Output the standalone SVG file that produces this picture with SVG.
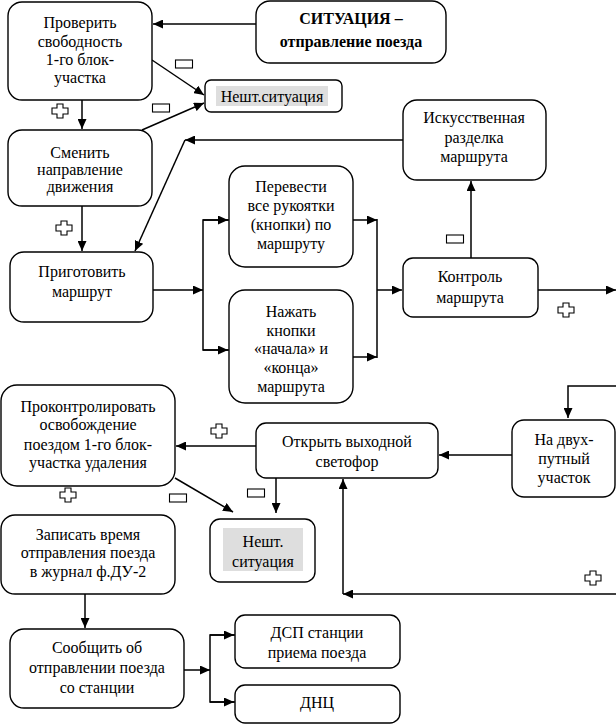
<svg xmlns="http://www.w3.org/2000/svg" width="616" height="724" viewBox="0 0 616 724">
<defs>
<marker id="ah" markerUnits="userSpaceOnUse" markerWidth="11" markerHeight="9" refX="10" refY="4.5" orient="auto">
<path d="M0,0 L10,4.5 L0,9 z" fill="#000"/>
</marker>
<path id="plus" d="M-3,-7 h6 v4 h5 v6 h-5 v4 h-6 v-4 h-5 v-6 h5 z" fill="#fff" stroke="#000" stroke-width="1.1"/>
<rect id="minus" x="-8.5" y="-4" width="17" height="8" fill="#fff" stroke="#000" stroke-width="1.1"/>
</defs>
<rect width="616" height="724" fill="#fff"/>

<g id="connectors" fill="none" stroke="#000" stroke-width="1.5">
<line x1="256" y1="24" x2="153" y2="24" marker-end="url(#ah)"/>
<line x1="152" y1="60" x2="204" y2="95" marker-end="url(#ah)"/>
<line x1="142" y1="130" x2="204" y2="103" marker-end="url(#ah)"/>
<line x1="82" y1="100" x2="82" y2="129" marker-end="url(#ah)"/>
<line x1="82" y1="206" x2="82" y2="251" marker-end="url(#ah)"/>
<line x1="403" y1="140" x2="185" y2="140" marker-end="url(#ah)"/>
<line x1="185" y1="140" x2="135" y2="251" marker-end="url(#ah)"/>
<line x1="153" y1="290" x2="203" y2="290" marker-end="url(#ah)"/>
<polyline points="229,220 203,220 203,350 229,350"/>
<line x1="203" y1="220" x2="228" y2="220" marker-end="url(#ah)"/>
<line x1="203" y1="350" x2="228" y2="350" marker-end="url(#ah)"/>
<line x1="353" y1="220" x2="377" y2="220" marker-end="url(#ah)"/>
<line x1="353" y1="357" x2="377" y2="357" marker-end="url(#ah)"/>
<line x1="377" y1="219" x2="377" y2="358"/>
<line x1="377" y1="290" x2="402" y2="290" marker-end="url(#ah)"/>
<line x1="471" y1="258" x2="471" y2="181" marker-end="url(#ah)"/>
<line x1="538" y1="290" x2="616" y2="290" marker-end="url(#ah)"/>
<polyline points="616,386 568,386 568,418" marker-end="url(#ah)"/>
<line x1="512" y1="455" x2="439" y2="455" marker-end="url(#ah)"/>
<line x1="616" y1="594" x2="343" y2="594" marker-end="url(#ah)"/>
<line x1="343" y1="594" x2="343" y2="479" marker-end="url(#ah)"/>
<line x1="256" y1="446" x2="176" y2="446" marker-end="url(#ah)"/>
<line x1="276" y1="478" x2="276" y2="513" marker-end="url(#ah)"/>
<line x1="175" y1="478" x2="233" y2="512" marker-end="url(#ah)"/>
<line x1="85" y1="594" x2="85" y2="628" marker-end="url(#ah)"/>
<line x1="184" y1="670" x2="210" y2="670" marker-end="url(#ah)"/>
<polyline points="235,635 210,635 210,702 235,702"/>
<line x1="210" y1="635" x2="234" y2="635" marker-end="url(#ah)"/>
<line x1="210" y1="702" x2="234" y2="702" marker-end="url(#ah)"/>
</g>

<g id="labels">
<use href="#minus" x="184" y="64"/>
<use href="#minus" x="161" y="108"/>
<use href="#plus" x="60" y="111"/>
<use href="#plus" x="64" y="228"/>
<use href="#minus" x="455" y="239"/>
<use href="#plus" x="566" y="310"/>
<use href="#plus" x="219" y="431"/>
<use href="#minus" x="256" y="493"/>
<use href="#minus" x="178" y="498"/>
<use href="#plus" x="68" y="495"/>
<use href="#plus" x="593" y="578"/>
</g>

<g id="n1">
<rect x="8" y="2" width="144" height="98" rx="14" fill="#fff" stroke="#000" stroke-width="1.4"/>
<text font-family="Liberation Serif" font-size="16" text-anchor="middle" x="80" y="28">Проверить</text>
<text font-family="Liberation Serif" font-size="16" text-anchor="middle" x="80" y="47">свободность</text>
<text font-family="Liberation Serif" font-size="16" text-anchor="middle" x="80" y="65">1-го блок-</text>
<text font-family="Liberation Serif" font-size="16" text-anchor="middle" x="80" y="83">участка</text>
</g>
<g id="n2">
<rect x="256" y="1" width="190" height="62" rx="14" fill="#fff" stroke="#000" stroke-width="1.4"/>
<text font-family="Liberation Serif" font-size="16" font-weight="bold" text-anchor="middle" x="351" y="24">СИТУАЦИЯ –</text>
<text font-family="Liberation Serif" font-size="16" font-weight="bold" text-anchor="middle" x="351" y="47">отправление поезда</text>
</g>
<g id="n3">
<rect x="205" y="80" width="137" height="32" rx="6" fill="#fff" stroke="#000" stroke-width="1.4"/>
<rect x="216" y="86" width="112" height="20" fill="#dedede"/>
<text font-family="Liberation Serif" font-size="16" text-anchor="middle" x="272" y="102">Нешт.ситуация</text>
</g>
<g id="n4">
<rect x="8" y="130" width="144" height="76" rx="14" fill="#fff" stroke="#000" stroke-width="1.4"/>
<text font-family="Liberation Serif" font-size="16" text-anchor="middle" x="80" y="158">Сменить</text>
<text font-family="Liberation Serif" font-size="16" text-anchor="middle" x="80" y="175">направление</text>
<text font-family="Liberation Serif" font-size="16" text-anchor="middle" x="80" y="192">движения</text>
</g>
<g id="n5">
<rect x="10" y="252" width="143" height="70" rx="14" fill="#fff" stroke="#000" stroke-width="1.4"/>
<text font-family="Liberation Serif" font-size="16" text-anchor="middle" x="82" y="277">Приготовить</text>
<text font-family="Liberation Serif" font-size="16" text-anchor="middle" x="82" y="297">маршрут</text>
</g>
<g id="n6">
<rect x="229" y="166" width="124" height="101" rx="16" fill="#fff" stroke="#000" stroke-width="1.4"/>
<text font-family="Liberation Serif" font-size="16" text-anchor="middle" x="291" y="192">Перевести</text>
<text font-family="Liberation Serif" font-size="16" text-anchor="middle" x="291" y="211">все рукоятки</text>
<text font-family="Liberation Serif" font-size="16" text-anchor="middle" x="291" y="230">(кнопки) по</text>
<text font-family="Liberation Serif" font-size="16" text-anchor="middle" x="291" y="249">маршруту</text>
</g>
<g id="n7">
<rect x="229" y="290" width="124" height="113" rx="16" fill="#fff" stroke="#000" stroke-width="1.4"/>
<text font-family="Liberation Serif" font-size="16" text-anchor="middle" x="291" y="317">Нажать</text>
<text font-family="Liberation Serif" font-size="16" text-anchor="middle" x="291" y="336">кнопки</text>
<text font-family="Liberation Serif" font-size="16" text-anchor="middle" x="291" y="354">«начала» и</text>
<text font-family="Liberation Serif" font-size="16" text-anchor="middle" x="291" y="373">«конца»</text>
<text font-family="Liberation Serif" font-size="16" text-anchor="middle" x="291" y="392">маршрута</text>
</g>
<g id="n8">
<rect x="403" y="258" width="135" height="59" rx="10" fill="#fff" stroke="#000" stroke-width="1.4"/>
<text font-family="Liberation Serif" font-size="16" text-anchor="middle" x="470" y="282">Контроль</text>
<text font-family="Liberation Serif" font-size="16" text-anchor="middle" x="470" y="303">маршрута</text>
</g>
<g id="n9">
<rect x="403" y="100" width="143" height="80" rx="14" fill="#fff" stroke="#000" stroke-width="1.4"/>
<text font-family="Liberation Serif" font-size="16" text-anchor="middle" x="474" y="123">Искусственная</text>
<text font-family="Liberation Serif" font-size="16" text-anchor="middle" x="474" y="143">разделка</text>
<text font-family="Liberation Serif" font-size="16" text-anchor="middle" x="474" y="162">маршрута</text>
</g>
<g id="n10">
<rect x="512" y="420" width="103" height="77" rx="12" fill="#fff" stroke="#000" stroke-width="1.4"/>
<text font-family="Liberation Serif" font-size="16" text-anchor="middle" x="564" y="445">На двух-</text>
<text font-family="Liberation Serif" font-size="16" text-anchor="middle" x="564" y="464">путный</text>
<text font-family="Liberation Serif" font-size="16" text-anchor="middle" x="564" y="483">участок</text>
</g>
<g id="n11">
<rect x="256" y="423" width="182" height="55" rx="10" fill="#fff" stroke="#000" stroke-width="1.4"/>
<text font-family="Liberation Serif" font-size="16" text-anchor="middle" x="347" y="447">Открыть выходной</text>
<text font-family="Liberation Serif" font-size="16" text-anchor="middle" x="347" y="467">светофор</text>
</g>
<g id="n12">
<rect x="1" y="385" width="174" height="101" rx="16" fill="#fff" stroke="#000" stroke-width="1.4"/>
<text font-family="Liberation Serif" font-size="16" text-anchor="middle" x="88" y="412">Проконтролировать</text>
<text font-family="Liberation Serif" font-size="16" text-anchor="middle" x="88" y="430">освобождение</text>
<text font-family="Liberation Serif" font-size="16" text-anchor="middle" x="88" y="450">поездом 1-го блок-</text>
<text font-family="Liberation Serif" font-size="16" text-anchor="middle" x="88" y="468">участка удаления</text>
</g>
<g id="n13">
<rect x="210" y="519" width="105" height="63" rx="10" fill="#fff" stroke="#000" stroke-width="1.4"/>
<rect x="223" y="528" width="80" height="43" fill="#dedede"/>
<text font-family="Liberation Serif" font-size="16" text-anchor="middle" x="263" y="547">Нешт.</text>
<text font-family="Liberation Serif" font-size="16" text-anchor="middle" x="263" y="567">ситуация</text>
</g>
<g id="n14">
<rect x="1" y="515" width="174" height="79" rx="14" fill="#fff" stroke="#000" stroke-width="1.4"/>
<text font-family="Liberation Serif" font-size="16" text-anchor="middle" x="88" y="540">Записать время</text>
<text font-family="Liberation Serif" font-size="16" text-anchor="middle" x="88" y="558">отправления поезда</text>
<text font-family="Liberation Serif" font-size="16" text-anchor="middle" x="88" y="577">в журнал ф.ДУ-2</text>
</g>
<g id="n15">
<rect x="10" y="629" width="174" height="79" rx="14" fill="#fff" stroke="#000" stroke-width="1.4"/>
<text font-family="Liberation Serif" font-size="16" text-anchor="middle" x="97" y="653">Сообщить об</text>
<text font-family="Liberation Serif" font-size="16" text-anchor="middle" x="97" y="673">отправлении поезда</text>
<text font-family="Liberation Serif" font-size="16" text-anchor="middle" x="97" y="693">со станции</text>
</g>
<g id="n16">
<rect x="235" y="615" width="165" height="53" rx="10" fill="#fff" stroke="#000" stroke-width="1.4"/>
<text font-family="Liberation Serif" font-size="16" text-anchor="middle" x="317" y="638">ДСП станции</text>
<text font-family="Liberation Serif" font-size="16" text-anchor="middle" x="317" y="658">приема поезда</text>
</g>
<g id="n17">
<rect x="235" y="685" width="165" height="38" rx="10" fill="#fff" stroke="#000" stroke-width="1.4"/>
<text font-family="Liberation Serif" font-size="16" text-anchor="middle" x="317" y="708">ДНЦ</text>
</g>
</svg>
